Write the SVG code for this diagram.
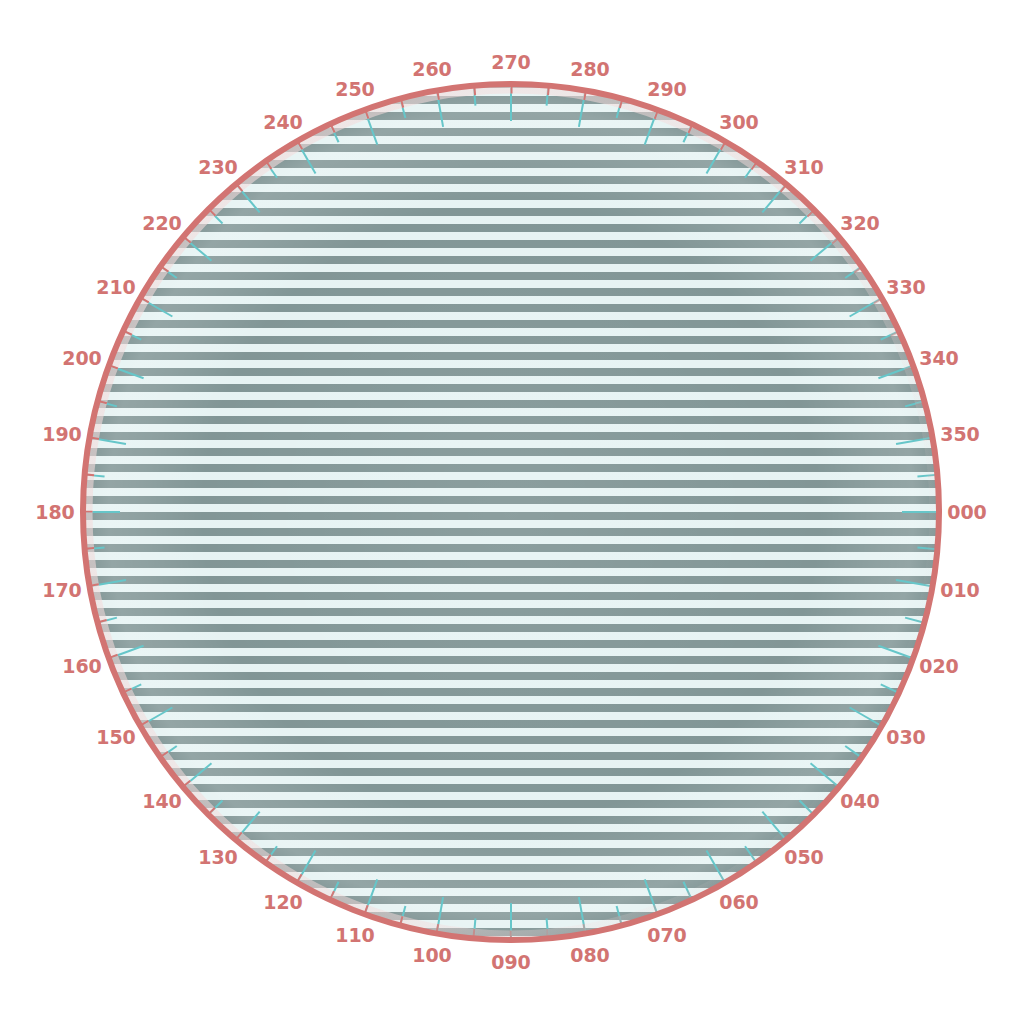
<svg xmlns="http://www.w3.org/2000/svg" xmlns:xlink="http://www.w3.org/1999/xlink" width="1024" height="1024" viewBox="0 0 1024 1024">
<style>
.lbl{font-family:"DejaVu Sans",Lato,sans-serif;font-weight:700;font-size:19px;fill:#d27472;text-anchor:middle}
.cy{stroke:#66c6c9;stroke-width:2}
</style>
<defs>
<pattern id="stripes" patternUnits="userSpaceOnUse" x="0" y="0" width="16" height="16">
<rect width="16" height="16" fill="#e6f3f3"/>
<rect width="16" height="8" fill="#7f9494"/>
</pattern>
<radialGradient id="glow" cx="511" cy="512" r="428" gradientUnits="userSpaceOnUse">
<stop offset="0" stop-color="#ffffff" stop-opacity="0.1"/>
<stop offset="0.72" stop-color="#ffffff" stop-opacity="0.02"/>
<stop offset="0.86" stop-color="#ffffff" stop-opacity="0.12"/>
<stop offset="0.94" stop-color="#ffffff" stop-opacity="0.16"/>
<stop offset="1" stop-color="#ffffff" stop-opacity="0.02"/>
</radialGradient>
<linearGradient id="bandG" gradientUnits="userSpaceOnUse" x1="150" y1="250" x2="930" y2="650">
<stop offset="0" stop-color="#f4dcdc" stop-opacity="0.6"/>
<stop offset="0.6" stop-color="#f4dcdc" stop-opacity="0.5"/>
<stop offset="0.9" stop-color="#f4dcdc" stop-opacity="0.08"/>
<stop offset="1" stop-color="#f4dcdc" stop-opacity="0"/>
</linearGradient>
<linearGradient id="redG" gradientUnits="userSpaceOnUse" x1="150" y1="250" x2="930" y2="650">
<stop offset="0" stop-color="#d27472" stop-opacity="1"/>
<stop offset="0.6" stop-color="#d27472" stop-opacity="0.95"/>
<stop offset="0.9" stop-color="#d27472" stop-opacity="0.1"/>
<stop offset="1" stop-color="#d27472" stop-opacity="0"/>
</linearGradient>
<line id="tl" class="cy" x1="902" y1="512" x2="937" y2="512"/>
<line id="ts" class="cy" x1="919" y1="512" x2="937" y2="512"/>
</defs>
<rect width="1024" height="1024" fill="#ffffff"/>
<g id="dial">
<circle cx="511" cy="512" r="428" fill="url(#stripes)"/>
<circle cx="511" cy="512" r="428" fill="url(#glow)"/>
</g>
<g id="ticks">
<use xlink:href="#tl" transform="rotate(0 511 512)"/><use xlink:href="#ts" transform="rotate(5 511 512)"/>
<use xlink:href="#tl" transform="rotate(10 511 512)"/><use xlink:href="#ts" transform="rotate(15 511 512)"/>
<use xlink:href="#tl" transform="rotate(20 511 512)"/><use xlink:href="#ts" transform="rotate(25 511 512)"/>
<use xlink:href="#tl" transform="rotate(30 511 512)"/><use xlink:href="#ts" transform="rotate(35 511 512)"/>
<use xlink:href="#tl" transform="rotate(40 511 512)"/><use xlink:href="#ts" transform="rotate(45 511 512)"/>
<use xlink:href="#tl" transform="rotate(50 511 512)"/><use xlink:href="#ts" transform="rotate(55 511 512)"/>
<use xlink:href="#tl" transform="rotate(60 511 512)"/><use xlink:href="#ts" transform="rotate(65 511 512)"/>
<use xlink:href="#tl" transform="rotate(70 511 512)"/><use xlink:href="#ts" transform="rotate(75 511 512)"/>
<use xlink:href="#tl" transform="rotate(80 511 512)"/><use xlink:href="#ts" transform="rotate(85 511 512)"/>
<use xlink:href="#tl" transform="rotate(90 511 512)"/><use xlink:href="#ts" transform="rotate(95 511 512)"/>
<use xlink:href="#tl" transform="rotate(100 511 512)"/><use xlink:href="#ts" transform="rotate(105 511 512)"/>
<use xlink:href="#tl" transform="rotate(110 511 512)"/><use xlink:href="#ts" transform="rotate(115 511 512)"/>
<use xlink:href="#tl" transform="rotate(120 511 512)"/><use xlink:href="#ts" transform="rotate(125 511 512)"/>
<use xlink:href="#tl" transform="rotate(130 511 512)"/><use xlink:href="#ts" transform="rotate(135 511 512)"/>
<use xlink:href="#tl" transform="rotate(140 511 512)"/><use xlink:href="#ts" transform="rotate(145 511 512)"/>
<use xlink:href="#tl" transform="rotate(150 511 512)"/><use xlink:href="#ts" transform="rotate(155 511 512)"/>
<use xlink:href="#tl" transform="rotate(160 511 512)"/><use xlink:href="#ts" transform="rotate(165 511 512)"/>
<use xlink:href="#tl" transform="rotate(170 511 512)"/><use xlink:href="#ts" transform="rotate(175 511 512)"/>
<use xlink:href="#tl" transform="rotate(180 511 512)"/><use xlink:href="#ts" transform="rotate(185 511 512)"/>
<use xlink:href="#tl" transform="rotate(190 511 512)"/><use xlink:href="#ts" transform="rotate(195 511 512)"/>
<use xlink:href="#tl" transform="rotate(200 511 512)"/><use xlink:href="#ts" transform="rotate(205 511 512)"/>
<use xlink:href="#tl" transform="rotate(210 511 512)"/><use xlink:href="#ts" transform="rotate(215 511 512)"/>
<use xlink:href="#tl" transform="rotate(220 511 512)"/><use xlink:href="#ts" transform="rotate(225 511 512)"/>
<use xlink:href="#tl" transform="rotate(230 511 512)"/><use xlink:href="#ts" transform="rotate(235 511 512)"/>
<use xlink:href="#tl" transform="rotate(240 511 512)"/><use xlink:href="#ts" transform="rotate(245 511 512)"/>
<use xlink:href="#tl" transform="rotate(250 511 512)"/><use xlink:href="#ts" transform="rotate(255 511 512)"/>
<use xlink:href="#tl" transform="rotate(260 511 512)"/><use xlink:href="#ts" transform="rotate(265 511 512)"/>
<use xlink:href="#tl" transform="rotate(270 511 512)"/><use xlink:href="#ts" transform="rotate(275 511 512)"/>
<use xlink:href="#tl" transform="rotate(280 511 512)"/><use xlink:href="#ts" transform="rotate(285 511 512)"/>
<use xlink:href="#tl" transform="rotate(290 511 512)"/><use xlink:href="#ts" transform="rotate(295 511 512)"/>
<use xlink:href="#tl" transform="rotate(300 511 512)"/><use xlink:href="#ts" transform="rotate(305 511 512)"/>
<use xlink:href="#tl" transform="rotate(310 511 512)"/><use xlink:href="#ts" transform="rotate(315 511 512)"/>
<use xlink:href="#tl" transform="rotate(320 511 512)"/><use xlink:href="#ts" transform="rotate(325 511 512)"/>
<use xlink:href="#tl" transform="rotate(330 511 512)"/><use xlink:href="#ts" transform="rotate(335 511 512)"/>
<use xlink:href="#tl" transform="rotate(340 511 512)"/><use xlink:href="#ts" transform="rotate(345 511 512)"/>
<use xlink:href="#tl" transform="rotate(350 511 512)"/><use xlink:href="#ts" transform="rotate(355 511 512)"/>
</g>
<g id="band">
<circle cx="511" cy="512" r="423" fill="none" stroke="url(#bandG)" stroke-width="9"/>
<circle cx="511" cy="512" r="423" fill="none" stroke="url(#redG)" stroke-width="9" stroke-dasharray="2 34.9149" stroke-dashoffset="1"/>
</g>
<circle id="rim" cx="511" cy="512" r="428" fill="none" stroke="#d27472" stroke-width="6"/>
<g id="labels">
<text class="lbl" x="967" y="519">000</text>
<text class="lbl" x="960" y="597">010</text>
<text class="lbl" x="939" y="673">020</text>
<text class="lbl" x="906" y="744">030</text>
<text class="lbl" x="860" y="808">040</text>
<text class="lbl" x="804" y="864">050</text>
<text class="lbl" x="739" y="909">060</text>
<text class="lbl" x="667" y="942">070</text>
<text class="lbl" x="590" y="962">080</text>
<text class="lbl" x="511" y="969">090</text>
<text class="lbl" x="432" y="962">100</text>
<text class="lbl" x="355" y="942">110</text>
<text class="lbl" x="283" y="909">120</text>
<text class="lbl" x="218" y="864">130</text>
<text class="lbl" x="162" y="808">140</text>
<text class="lbl" x="116" y="744">150</text>
<text class="lbl" x="82" y="673">160</text>
<text class="lbl" x="62" y="597">170</text>
<text class="lbl" x="55" y="519">180</text>
<text class="lbl" x="62" y="441">190</text>
<text class="lbl" x="82" y="365">200</text>
<text class="lbl" x="116" y="294">210</text>
<text class="lbl" x="162" y="230">220</text>
<text class="lbl" x="218" y="174">230</text>
<text class="lbl" x="283" y="129">240</text>
<text class="lbl" x="355" y="96">250</text>
<text class="lbl" x="432" y="76">260</text>
<text class="lbl" x="511" y="69">270</text>
<text class="lbl" x="590" y="76">280</text>
<text class="lbl" x="667" y="96">290</text>
<text class="lbl" x="739" y="129">300</text>
<text class="lbl" x="804" y="174">310</text>
<text class="lbl" x="860" y="230">320</text>
<text class="lbl" x="906" y="294">330</text>
<text class="lbl" x="939" y="365">340</text>
<text class="lbl" x="960" y="441">350</text>
</g>
</svg>
